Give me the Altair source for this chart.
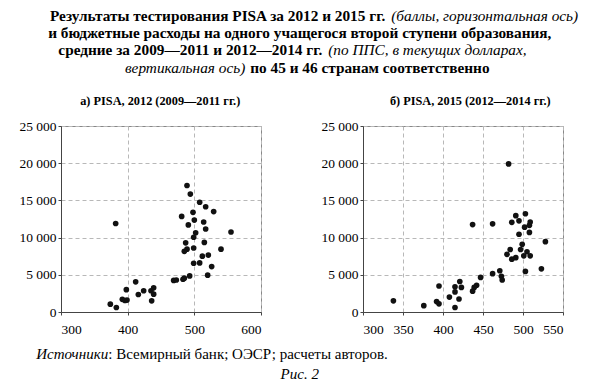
import altair as alt
import pandas as pd

# ---------------- data ----------------
left_x = [382, 374, 383, 392, 396, 399, 398, 412, 416, 424, 435, 439, 439, 436,
          469, 473, 483, 485, 493,
          489, 494, 508, 517, 529, 481, 498, 500, 491, 514, 517, 502, 499, 487,
          515, 555, 485, 489, 499, 540, 521, 512, 508, 499, 526, 520]
left_y = [11900, 1050, 600, 1700, 1550, 1600, 3000, 4050, 2350, 2850, 2850, 3250, 2400, 1500,
          4250, 4300, 4400, 4550, 4850,
          17000, 15850, 14750, 14150, 13500, 12850, 13400, 12350, 11700, 12100, 11150, 10650, 10050, 9300,
          9350, 10750, 8150, 8450, 8600, 8450, 7650, 7500, 6600, 6550, 6100, 4950]

right_x = [338, 376, 392, 395, 395, 408, 415, 415, 415, 420, 421, 423, 437, 439, 442, 447,
           437, 462, 462, 471, 473, 474, 480, 484, 486, 491, 486, 491, 495, 495, 497, 499,
           501, 502, 503, 503, 505, 508, 509, 508, 509, 523, 528, 482]
right_y = [1500, 850, 1400, 1100, 3500, 2000, 600, 2700, 3400, 1750, 4100, 3300, 2800, 3300, 3600, 4650,
           11750, 11850, 5150, 5550, 4800, 4300, 7750, 8400, 7100, 7300, 12050, 12950, 12250, 10450, 8400, 9100,
           7550, 11400, 13200, 5450, 8100, 11650, 12100, 10700, 7550, 5800, 9450, 19900]

left_ticks = [300, 400, 500, 600]
right_ticks = [300, 350, 400, 450, 500, 550]
y_ticks = [0, 5000, 10000, 15000, 20000, 25000]

# title segments: (style, text, anchor, line); parts before a junction are right-aligned,
# parts after a junction are left-aligned, single lines are centred
title_segments = [
    ("b", "Результаты тестирования PISA за 2012 и 2015 гг.", "right", 0),
    ("i", "(баллы, горизонтальная ось)", "left", 0),
    ("b", "и бюджетные расходы на одного учащегося второй ступени образования,", "center", 1),
    ("b", "средние за 2009—2011 и 2012—2014 гг.", "right", 2),
    ("i", "(по ППС, в текущих долларах,", "left", 2),
    ("i", "вертикальная ось)", "right", 3),
    ("b", "по 45 и 46 странам соответственно", "left", 3),
]
panel_titles = ["а) PISA, 2012 (2009—2011 гг.)", "б) PISA, 2015 (2012—2014 гг.)"]
source_italic = "Источники"
source_rest = ": Всемирный банк; ОЭСР; расчеты авторов."
fig_label = "Рис. 2"

FONT = "Liberation Serif"
HEAD_SIZE = 15.3
ORIGIN = 58.75  # page x of the left plot edge; header/footer share this origin

# page x of each line's junction (end of first part / start of second part)
junction_end = {0: 383, 1: 297.5, 2: 320, 3: 243}
junction_start = {0: 389, 2: 326, 3: 248}
line_y = [12, 28.5, 46, 63.7]

rows = []
for st, t, anchor, ln in title_segments:
    px = junction_start[ln] if anchor == "left" else junction_end[ln]
    rows.append({"text": t, "px": px - ORIGIN, "py": line_y[ln], "style": st + "_" + anchor})
head_df = pd.DataFrame(rows)
ptitle_df = pd.DataFrame({"text": panel_titles, "px": [158 - ORIGIN, 468 - ORIGIN], "py": [96, 96]})

def txt_layer(df, style, weight, fstyle, size, align="left"):
    return alt.Chart(df).transform_filter(alt.datum.style == style).mark_text(
        align=align, baseline="alphabetic", font=FONT, fontSize=size,
        fontWeight=weight, fontStyle=fstyle, color="black"
    ).encode(
        x=alt.X("px:Q", scale=None, axis=None),
        y=alt.Y("py:Q", scale=None, axis=None),
        text="text:N",
    )

ptitles = alt.Chart(ptitle_df).mark_text(
    align="center", baseline="alphabetic", font=FONT, fontSize=12.3, fontWeight="bold", color="black"
).encode(x=alt.X("px:Q", scale=None, axis=None), y=alt.Y("py:Q", scale=None, axis=None), text="text:N")

header = alt.layer(
    txt_layer(head_df, "b_right", "bold", "normal", HEAD_SIZE, "right"),
    txt_layer(head_df, "b_left", "bold", "normal", HEAD_SIZE, "left"),
    txt_layer(head_df, "b_center", "bold", "normal", HEAD_SIZE, "center"),
    txt_layer(head_df, "i_right", "normal", "italic", HEAD_SIZE, "right"),
    txt_layer(head_df, "i_left", "normal", "italic", HEAD_SIZE, "left"),
    ptitles,
).properties(width=480, height=108, view=alt.ViewBackground(stroke="transparent"))

def axis_common(**kw):
    return alt.Axis(
        title=None, grid=True, gridDash=[4, 3], gridColor="#b8b8b8", gridWidth=1,
        tickSize=3, tickColor="#444", domainColor="#444",
        labelFont=FONT, labelFontSize=13.5, labelColor="black", **kw
    )

def panel(xs, ys, ticks):
    df = pd.DataFrame({"x": xs, "y": ys})
    return alt.Chart(df).mark_circle(size=32, color="#111", opacity=1).encode(
        x=alt.X("x:Q", scale=alt.Scale(domain=[ticks[0], ticks[-1]], nice=False, zero=False),
                axis=axis_common(values=ticks, labelPadding=7, format="d")),
        y=alt.Y("y:Q", scale=alt.Scale(domain=[0, 25000], nice=False),
                axis=axis_common(values=y_ticks, labelPadding=2,
                                 labelExpr="replace(format(datum.value, ','), ',', ' ')")),
    ).properties(width=200, height=186, view=alt.ViewBackground(stroke="#888"))

panels = alt.hconcat(panel(left_x, left_y, left_ticks), panel(right_x, right_y, right_ticks), spacing=58)

foot_df = pd.DataFrame({
    "text": [source_italic, source_rest, fig_label],
    "px": [106 - ORIGIN, 106 - ORIGIN, 297.5 - ORIGIN],
    "py": [22, 22, 42],
    "style": ["i", "r", "c"],
})
footer = alt.layer(
    txt_layer(foot_df, "i", "normal", "italic", 15, align="right"),
    txt_layer(foot_df, "r", "normal", "normal", 15, align="left"),
    txt_layer(foot_df, "c", "normal", "italic", 15, align="center"),
).properties(width=480, height=45, view=alt.ViewBackground(stroke="transparent"))

chart = alt.vconcat(header, panels, footer, spacing=0).properties(
    padding={"left": 10, "top": 0, "right": 0, "bottom": 0}
)

chart.save("out.html", embed_options={"renderer": "svg", "actions": False})
